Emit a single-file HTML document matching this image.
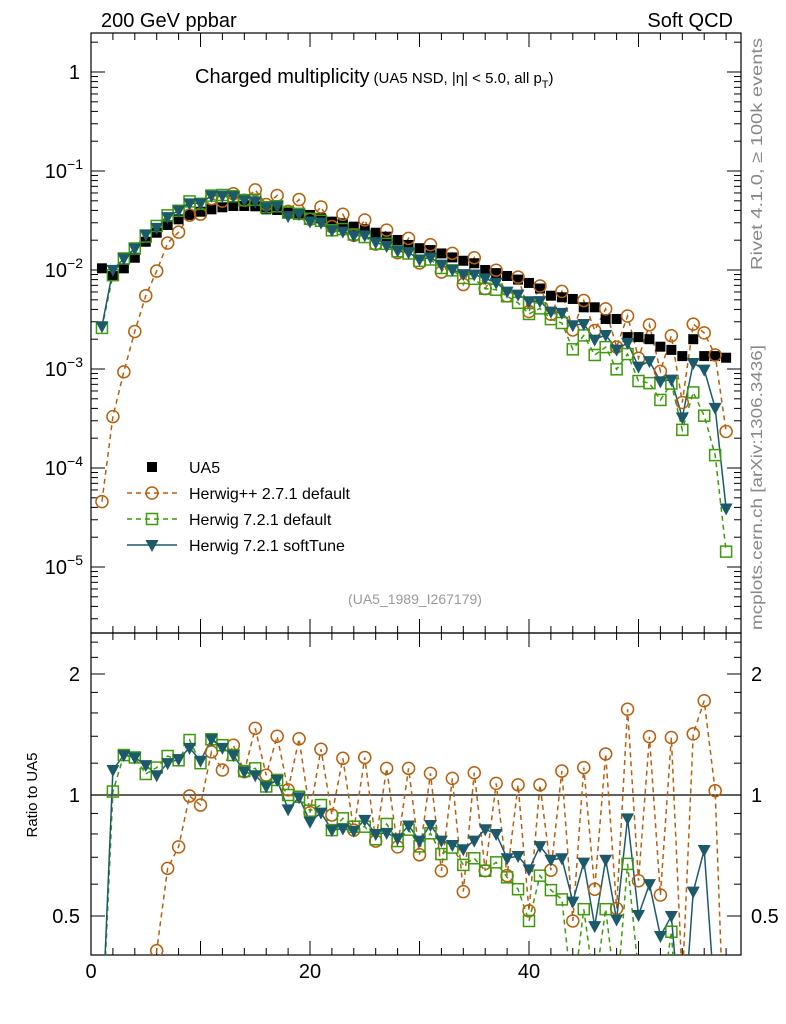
<!DOCTYPE html>
<html><head><meta charset="utf-8"><style>
html,body{margin:0;background:#fff;overflow:hidden;width:786px;height:1024px}
svg{display:block;font-family:"Liberation Sans",sans-serif}
</style></head><body>
<svg id="c" width="786" height="1024" viewBox="0 0 786 1024">
<defs>
<clipPath id="cm"><rect x="91" y="33" width="650" height="600"/></clipPath>
<clipPath id="cr"><rect x="91" y="633" width="650" height="322"/></clipPath>
</defs>
<g id="axes"></g>
<g id="plots"></g>
<text x="101" y="27" font-size="20">200 GeV ppbar</text>
<text x="733" y="27" font-size="20" text-anchor="end">Soft QCD</text>
<text x="195" y="83" font-size="20">Charged multiplicity<tspan font-size="15" dx="4">(UA5 NSD, |η| &lt; 5.0, all p</tspan><tspan font-size="11" dy="5">T</tspan><tspan font-size="15" dy="-5">)</tspan></text>
<text x="415" y="604" font-size="14" fill="#999" text-anchor="middle">(UA5_1989_I267179)</text>
<text transform="translate(762,270) rotate(-90)" font-size="16" fill="#888" textLength="232" lengthAdjust="spacingAndGlyphs">Rivet 4.1.0, ≥ 100k events</text>
<text transform="translate(762,630) rotate(-90)" font-size="16" fill="#888" textLength="285" lengthAdjust="spacingAndGlyphs">mcplots.cern.ch [arXiv:1306.3436]</text>
<text transform="translate(37,795) rotate(-90)" font-size="15" text-anchor="middle">Ratio to UA5</text>
<g id="legend"></g>
</svg>
<script>
const xs=[1,2,3,4,5,6,7,8,9,10,11,12,13,14,15,16,17,18,19,20,21,22,23,24,25,26,27,28,29,30,31,32,33,34,35,36,37,38,39,40,41,42,43,44,45,46,47,48,49,50,51,52,53,54,55,56,57,58];
const ua5=[0.0104,0.0087,0.0104,0.0133,0.0193,0.0238,0.0285,0.0325,0.036,0.0388,0.041,0.043,0.0443,0.0443,0.044,0.041,0.0404,0.038,0.0373,0.036,0.0333,0.0308,0.0296,0.0274,0.0258,0.0238,0.0217,0.0201,0.0179,0.0166,0.0159,0.0147,0.0134,0.0124,0.0117,0.0100,0.0093,0.0087,0.0080,0.0074,0.0065,0.0055,0.0053,0.0051,0.0042,0.0042,0.0032,0.0032,0.0021,0.0021,0.0020,0.00168,0.00156,0.00135,0.0020,0.00135,0.00135,0.0013];
const ratioHpp=[0.0044,0.038,0.09,0.18,0.285,0.41,0.657,0.743,0.994,0.944,1.28,1.154,1.33,1.143,1.465,1.12,1.40,1.03,1.38,0.904,1.30,0.892,1.234,0.818,1.24,0.768,1.165,0.743,1.165,0.71,1.132,0.648,1.10,0.575,1.136,0.648,1.069,0.63,1.06,0.515,1.06,0.65,1.147,0.486,1.17,0.583,1.265,0.522,1.634,0.612,1.397,0.564,1.39,0.34,1.419,1.716,1.025,0.18];
const ratioH721=[0.25,1.02,1.257,1.24,1.128,1.17,1.25,1.22,1.37,1.20,1.376,1.33,1.257,1.147,1.165,1.05,1.09,1.0,0.99,0.914,0.944,0.818,0.875,0.834,0.834,0.776,0.847,0.768,0.82,0.745,0.803,0.713,0.74,0.67,0.696,0.648,0.68,0.624,0.583,0.486,0.63,0.58,0.55,0.31,0.52,0.33,0.52,0.31,0.674,0.36,0.36,0.29,0.457,0.18,0.29,0.25,0.1,0.011];
const ratioSoft=[0.26,1.154,1.257,1.24,1.187,1.12,1.20,1.227,1.31,1.217,1.376,1.31,1.257,1.143,1.12,1.05,1.09,0.921,0.987,0.858,0.904,0.818,0.825,0.815,0.867,0.80,0.805,0.78,0.84,0.77,0.842,0.77,0.751,0.733,0.77,0.822,0.80,0.696,0.705,0.653,0.746,0.69,0.696,0.543,0.679,0.472,0.69,0.49,0.875,0.503,0.60,0.446,0.50,0.24,0.575,0.73,0.3,0.03];

const NS="http://www.w3.org/2000/svg";
const X0=91,X1=741,XMAX=59.36;
const sx=v=>X0+v*(X1-X0)/XMAX;
const sy=v=>72-99*Math.log10(v);
const sr=v=>795-402*Math.log10(v);
function el(tag,attrs,parent){const e=document.createElementNS(NS,tag);for(const k in attrs)e.setAttribute(k,attrs[k]);parent.appendChild(e);return e;}
const axes=document.getElementById('axes');
const plots=document.getElementById('plots');

let f1=el('rect',{x:91,y:33,width:650,height:600,fill:'none',stroke:'#000','stroke-width':1.2},axes);


let f2=el('rect',{x:91,y:633,width:650,height:322,fill:'none',stroke:'#000','stroke-width':1.2},axes);



for(let d=-6;d<=0;d++){for(let m=1;m<10;m++){const v=m*Math.pow(10,d);const y=sy(v);if(y<33||y>633)continue;const L=m===1?14:7;
 el('line',{x1:91,x2:91+L,y1:y,y2:y,stroke:'#000'},axes);el('line',{x1:741,x2:741-L,y1:y,y2:y,stroke:'#000'},axes);}}
const ylab=[[1,'1'],[0.1,'−1'],[0.01,'−2'],[0.001,'−3'],[1e-4,'−4'],[1e-5,'−5']];
ylab.forEach(([v,t])=>{const y=sy(v);let tx;
 if(v===1){tx=el('text',{x:80,y:y+7,'font-size':20,'text-anchor':'end'},axes);tx.textContent='1';}
 else{tx=el('text',{x:83,y:y+7,'font-size':20,'text-anchor':'end'},axes);tx.innerHTML='10<tspan font-size="14" dy="-9">'+t+'</tspan>';}
 
 });
[0.4,0.5,0.6,0.7,0.8,0.9,1,1.2,1.4,1.6,1.8,2,2.2,2.4].forEach(v=>{const y=sr(v);const L=(v===0.5||v===1||v===2)?14:7;
 el('line',{x1:91,x2:91+L,y1:y,y2:y,stroke:'#000'},axes);el('line',{x1:741,x2:741-L,y1:y,y2:y,stroke:'#000'},axes);});
[[2,'2'],[1,'1'],[0.5,'0.5']].forEach(([v,t])=>{const a=el('text',{x:80,y:sr(v)+7,'font-size':20,'text-anchor':'end'},axes);a.textContent=t;
 
 
 const b=el('text',{x:751,y:sr(v)+7,'font-size':20},axes);b.textContent=t;
 
 });
el('line',{x1:91,x2:741,y1:795,y2:795,stroke:'#000','stroke-width':1.2},axes);
for(let v=0;v<=58;v+=2){const x=sx(v);const L=v%10===0?14:7;
 [[33,1],[633,1],[633,-1],[955,-1]].forEach(([y,s])=>el('line',{x1:x,x2:x,y1:y,y2:y+s*L,stroke:'#000'},axes));}
[0,20,40].forEach(v=>{const t=el('text',{x:sx(v),y:978,'font-size':20,'text-anchor':'middle'},axes);t.textContent=v;
 
 });

const gm=el('g',{'clip-path':'url(#cm)'},plots);
const gr=el('g',{'clip-path':'url(#cr)'},plots);
function marker(type,x,y,col,g){
 if(type==='sq')return el('rect',{x:x-5,y:y-5,width:10,height:10,fill:'#000'},g);
 if(type==='circ')return el('circle',{cx:x,cy:y,r:6,fill:'none',stroke:col,'stroke-width':1.5},g);
 if(type==='osq')return el('rect',{x:x-5.5,y:y-5.5,width:11,height:11,fill:'none',stroke:col,'stroke-width':1.5},g);
 return el('path',{d:`M${x-6.5},${y-5}L${x+6.5},${y-5}L${x},${y+7}Z`,fill:col},g);
}
const series=[
 {name:'herwigpp',ratio:ratioHpp,col:'#b5600e',type:'circ',dash:'5,4'},
 {name:'herwig721-default',ratio:ratioH721,col:'#3d9a0a',type:'osq',dash:'5,4'},
 {name:'herwig721-softtune',ratio:ratioSoft,col:'#1c5a6a',type:'tri',dash:''}];
series.forEach(s=>{
 const vals=xs.map((x,i)=>ua5[i]*s.ratio[i]);
 const pm=el('polyline',{points:xs.map((x,i)=>sx(x)+','+sy(vals[i])).join(' '),fill:'none',stroke:s.col,'stroke-width':1.5,'stroke-dasharray':s.dash},gm);
 
 
 const pr=el('polyline',{points:xs.map((x,i)=>sx(x)+','+sr(s.ratio[i])).join(' '),fill:'none',stroke:s.col,'stroke-width':1.5,'stroke-dasharray':s.dash},gr);
 
 
 s.vals=vals;
});
xs.forEach((x,i)=>{const m=marker('sq',sx(x),sy(ua5[i]),'#000',gm);
 
 });
series.forEach(s=>{xs.forEach((x,i)=>{
 const m=marker(s.type,sx(x),sy(s.vals[i]),s.col,gm);
 
 
 const r=marker(s.type,sx(x),sr(s.ratio[i]),s.col,gr);
 
 });});

const lg=document.getElementById('legend');
const lent=[['UA5','sq','#000',''],['Herwig++ 2.7.1 default','circ','#b5600e','5,4'],['Herwig 7.2.1 default','osq','#3d9a0a','5,4'],['Herwig 7.2.1 softTune','tri','#1c5a6a','']];
lent.forEach((e,i)=>{const y=467+i*26;const g=el('g',{},lg);
 
 
 if(i>0)el('line',{x1:127,x2:177,y1:y,y2:y,stroke:e[2],'stroke-width':1.5,'stroke-dasharray':e[3]},g);
 marker(e[1],152,y,e[2],g);
 const t=el('text',{x:189,y:y+6,'font-size':16},g);t.textContent=e[0];});
</script>
</body></html>
